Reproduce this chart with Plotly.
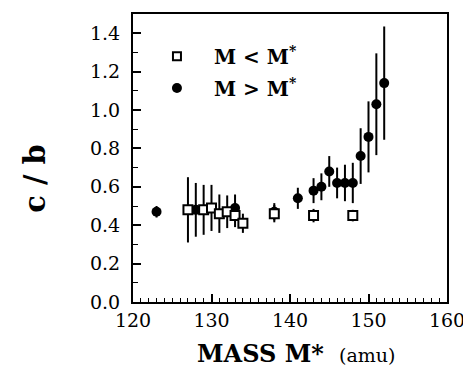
import plotly.graph_objects as go

# M > M* (filled circles)
mass_hi = [123, 128, 133, 138, 141, 143, 144, 145, 146, 147, 148, 149, 150, 151, 152]
cb_hi = [0.47, 0.48, 0.49, 0.47, 0.54, 0.58, 0.60, 0.68, 0.62, 0.62, 0.62, 0.76, 0.86, 1.03, 1.14]
err_hi = [0.03, 0.14, 0.07, 0.045, 0.055, 0.065, 0.07, 0.08, 0.08, 0.095, 0.105, 0.145, 0.185, 0.265, 0.295]

# M < M* (open squares)
mass_lo = [127, 129, 130, 131, 132, 133, 134, 138, 143, 148]
cb_lo = [0.48, 0.48, 0.49, 0.46, 0.47, 0.45, 0.41, 0.46, 0.45, 0.45]
err_lo = [0.17, 0.13, 0.12, 0.10, 0.085, 0.06, 0.05, 0.045, 0.035, 0.03]

x_ticks = [120, 130, 140, 150, 160]
y_ticks = [0.0, 0.2, 0.4, 0.6, 0.8, 1.0, 1.2, 1.4]

SERIF = "DejaVu Serif, Liberation Serif, serif"

fig = go.Figure()
fig.add_trace(go.Scatter(
    x=mass_hi, y=cb_hi, mode="markers", name="M > M*",
    marker=dict(symbol="circle", size=10, color="black"),
    error_y=dict(type="data", array=err_hi, visible=True, color="black", thickness=2, width=0),
))
fig.add_trace(go.Scatter(
    x=mass_lo, y=cb_lo, mode="markers", name="M < M*",
    marker=dict(symbol="square", size=9, color="white", line=dict(color="black", width=2)),
    error_y=dict(type="data", array=err_lo, visible=True, color="black", thickness=2, width=0),
))

# legend drawn as marker + text
fig.add_trace(go.Scatter(
    x=[125.6], y=[1.28], mode="markers", showlegend=False, hoverinfo="skip",
    marker=dict(symbol="square", size=8, color="white", line=dict(color="black", width=2)),
))
fig.add_trace(go.Scatter(
    x=[125.6], y=[1.115], mode="markers", showlegend=False, hoverinfo="skip",
    marker=dict(symbol="circle", size=10, color="black"),
))
fig.add_annotation(x=130.0, y=1.28, xref="x", yref="y", text="<b>M &lt; M<sup>*</sup></b>",
                   showarrow=False, xanchor="left", font=dict(family=SERIF, size=20, color="black"))
fig.add_annotation(x=130.0, y=1.115, xref="x", yref="y", text="<b>M &gt; M<sup>*</sup></b>",
                   showarrow=False, xanchor="left", font=dict(family=SERIF, size=20, color="black"))

# axis titles
fig.add_annotation(x=0.52, y=-0.18, xref="paper", yref="paper", xanchor="center", yanchor="middle",
                   text="<b>MASS M*</b>  <span style='font-size:19px'>(amu)</span>",
                   showarrow=False,
                   font=dict(family=SERIF, size=24, color="black"))
fig.add_annotation(x=-0.31, y=0.43, xref="paper", yref="paper", xanchor="center", yanchor="middle",
                   textangle=-90, text="<b>c / b</b>", showarrow=False,
                   font=dict(family=SERIF, size=29, color="black"))

fig.update_xaxes(
    range=[120, 160], tickvals=x_ticks, ticktext=[str(v) for v in x_ticks],
    ticks="inside", ticklen=8, tickwidth=1.5, tickcolor="black",
    minor=dict(dtick=1, ticks="inside", ticklen=4, tickcolor="black", tickwidth=1),
    showline=True, linecolor="black", linewidth=2, mirror=True,
    showgrid=False, zeroline=False,
    tickfont=dict(family=SERIF, size=19, color="black"),
)
fig.update_yaxes(
    range=[0, 1.5], tickvals=y_ticks, ticktext=["%.1f" % v for v in y_ticks],
    ticks="inside", ticklen=8, tickwidth=1.5, tickcolor="black",
    minor=dict(dtick=0.1, ticks="inside", ticklen=5, tickcolor="black", tickwidth=1),
    showline=True, linecolor="black", linewidth=2, mirror=True,
    showgrid=False, zeroline=False, ticklabelstandoff=7,
    tickfont=dict(family=SERIF, size=19, color="black"),
)
# page body has an 8px default margin, so the figure is made 8px smaller
fig.update_layout(
    width=463, height=369,
    margin=dict(l=125, r=24, t=4, b=75),
    plot_bgcolor="white", paper_bgcolor="white",
    showlegend=False,
)
fig.write_html("out.html")
